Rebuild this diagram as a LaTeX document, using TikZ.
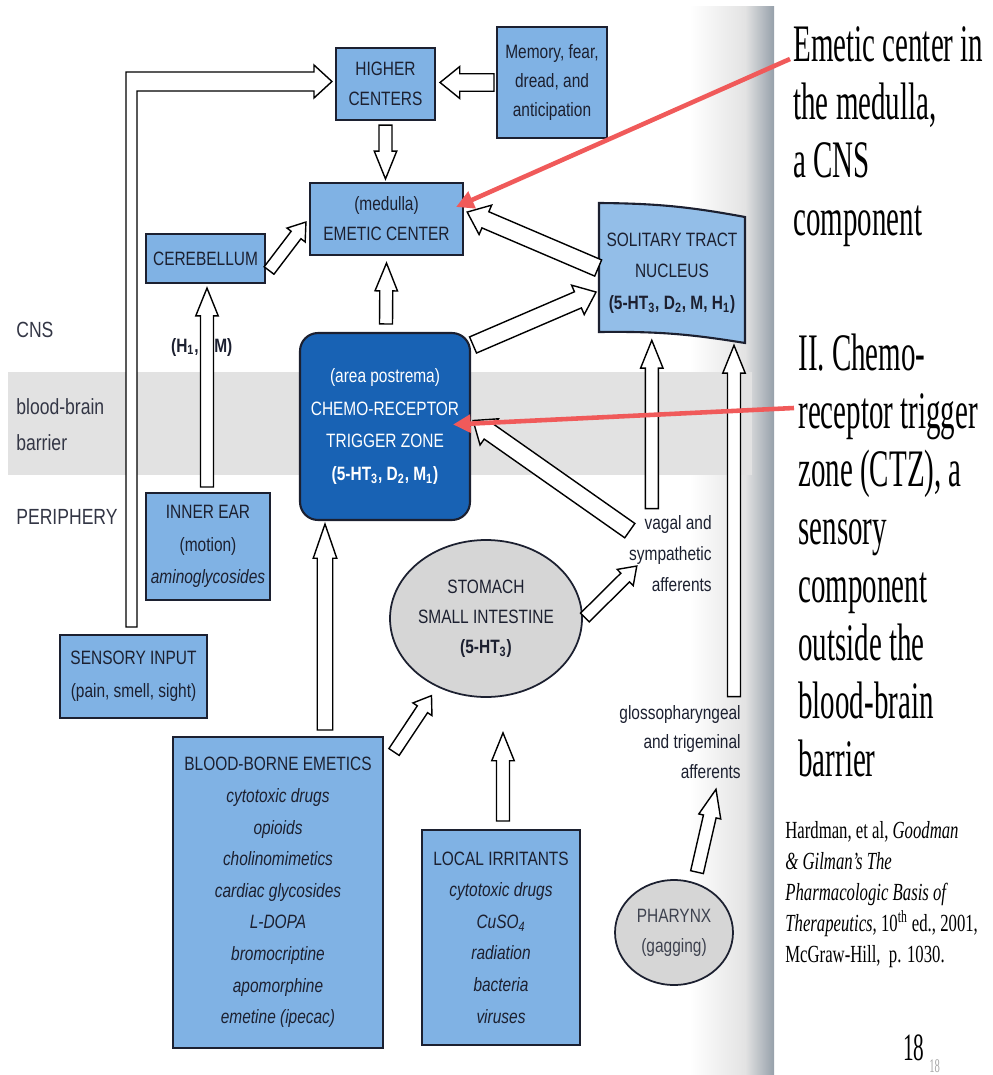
\documentclass[tikz,border=0pt]{standalone}
\usepackage{fontspec}
\setmainfont{Liberation Serif}
\newfontfamily\diagfont[FakeStretch=0.8]{Liberation Sans}
\newfontfamily\slidefont[FakeStretch=0.55]{Liberation Serif}
\newfontfamily\citefont[FakeStretch=0.68]{Liberation Serif}
\usetikzlibrary{arrows.meta, positioning, calc, shapes.arrows, shapes.geometric}

\definecolor{boxblue}{RGB}{128,178,228}
\definecolor{ctzblue}{RGB}{24,98,180}
\definecolor{gutgray}{RGB}{214,214,214}
\definecolor{bandgray}{RGB}{226,226,226}
\definecolor{pointred}{RGB}{240,90,90}
\definecolor{inkdark}{RGB}{28,32,48}
\definecolor{edgegray}{RGB}{150,160,170}

% hollow block arrow from #2 to #3
\newcommand{\fatarrow}[3][fatthin]{%
  \path let \p1=#2, \p2=#3,
    \n1={atan2(\y2-\y1,\x2-\x1)}, \n2={veclen(\x2-\x1,\y2-\y1)} in
    node[#1, rotate=\n1, minimum height=\n2, anchor=tail] at (\p1) {};}

\begin{document}
\begin{tikzpicture}[x=0.02cm, y=-0.02cm,
  box/.style={draw=inkdark, line width=1.2pt, fill=boxblue, text=inkdark, align=center,
    inner sep=0pt, font=\diagfont\fontsize{11}{17.5}\selectfont},
  gut/.style={box, ellipse, line width=1pt, fill=gutgray},
  lab/.style={text=inkdark, inner sep=0pt, align=center, font=\diagfont\fontsize{11}{17.5}\selectfont},
  side/.style={text=inkdark!90, inner sep=0pt, align=left, font=\diagfont\fontsize{12.5}{20.5}\selectfont},
  note/.style={inner sep=0pt, align=left, anchor=north west, font=\slidefont\fontsize{30}{33}\selectfont},
  fat/.style={single arrow, draw=black, fill=white, line width=0.8pt, inner xsep=0pt,
    minimum width=0pt, outer sep=0pt, single arrow head indent=0pt},
  fatthin/.style={fat, inner ysep=3.3pt, single arrow head extend=2.7pt, single arrow tip angle=44},
  fatshort/.style={fat, inner ysep=3.1pt, single arrow head extend=3pt, single arrow tip angle=70},
  fatwide/.style={fat, inner ysep=4.6pt, single arrow head extend=4.1pt, single arrow tip angle=78},
  fatlong/.style={fat, inner ysep=4pt, single arrow head extend=2.3pt, single arrow tip angle=38},
  fatline/.style={draw=black, fill=white, line width=0.8pt, line join=miter},
  pointer/.style={draw=pointred, line width=2.6pt, -{Triangle[length=10pt,width=10pt]}}
]
\useasboundingbox (0,0) rectangle (992,1075);

% page edge and blood-brain barrier band
\shade[left color=white, right color=gray!22] (690,6) rectangle (745,1075);
\shade[left color=gray!22, right color=edgegray] (745,6) rectangle (774,1075);
\fill[bandgray] (8,372) rectangle (752,475);

% side labels
\node[side, anchor=west] (cns) at (16,330) {CNS};
\node[side, anchor=west] (bbb) at (16,425) {blood-brain\\barrier};
\node[side, anchor=west] (peri) at (16,517) {PERIPHERY};

% boxes
\node[box, minimum width=1.98cm, minimum height=1.44cm, font=\diagfont\fontsize{11}{17}\selectfont]
  (higher) at (385.5,84) {HIGHER\\CENTERS};
\node[box, minimum width=2.2cm, minimum height=2.22cm, font=\diagfont\fontsize{11}{16.5}\selectfont]
  (memory) at (552,82.5) {Memory, fear,\\dread, and\\anticipation};
\node[box, minimum width=3.06cm, minimum height=1.44cm, font=\diagfont\fontsize{11}{17}\selectfont]
  (emetic) at (386.5,219) {(medulla)\\EMETIC CENTER};
\node[box, minimum width=2.38cm, minimum height=0.98cm] (cerebellum) at (205.5,258.5) {CEREBELLUM};
\node[box, minimum width=2.48cm, minimum height=2.14cm, font=\diagfont\fontsize{11}{18.5}\selectfont]
  (innerear) at (208,546.5) {INNER EAR\\(motion)\\\textit{aminoglycosides}};
\node[box, minimum width=2.94cm, minimum height=1.66cm, font=\diagfont\fontsize{11}{18.7}\selectfont]
  (sensory) at (133.5,676.5) {SENSORY INPUT\\(pain, smell, sight)};
\node[box, fill=ctzblue, text=white, rounded corners=0.36cm, minimum width=3.4cm, minimum height=3.74cm,
  font=\diagfont\fontsize{11}{18.6}\selectfont]
  (ctz) at (385,426.5) {(area postrema)\\CHEMO-RECEPTOR\\TRIGGER ZONE\\
  \textbf{(5-HT\textsubscript{3}, D\textsubscript{2}, M\textsubscript{1})}};
\node[gut, minimum width=3.2cm, minimum height=3.14cm, font=\diagfont\fontsize{11}{17}\selectfont]
  (stomach) at (486,618.5) {STOMACH\\SMALL INTESTINE\\\textbf{(5-HT\textsubscript{3})}};
\node[box, minimum width=4.2cm, minimum height=6.22cm, font=\diagfont\fontsize{11}{18}\selectfont]
  (blood) at (278,892.5) {BLOOD-BORNE EMETICS\\\textit{cytotoxic drugs}\\\textit{opioids}\\
  \textit{cholinomimetics}\\\textit{cardiac glycosides}\\\textit{L-DOPA}\\\textit{bromocriptine}\\
  \textit{apomorphine}\\\textit{emetine (ipecac)}};
\node[box, minimum width=3.16cm, minimum height=4.3cm, font=\diagfont\fontsize{11}{18}\selectfont]
  (local) at (501,937.5) {LOCAL IRRITANTS\\\textit{cytotoxic drugs}\\\textit{CuSO\textsubscript{4}}\\
  \textit{radiation}\\\textit{bacteria}\\\textit{viruses}};
\node[gut, text=inkdark!85, minimum width=2.36cm, minimum height=2.1cm, font=\diagfont\fontsize{11}{17}\selectfont]
  (pharynx) at (674,932.5) {PHARYNX\\(gagging)};

% solitary tract nucleus (curled sheet)
\draw[draw=inkdark, line width=1.2pt, fill=boxblue!85!white]
  (599,203) to[bend left=5] (745,217) -- (745,343) to[bend right=5] (599,332) -- cycle;
\node[lab, minimum width=2.9cm, minimum height=2.6cm, font=\diagfont\fontsize{11}{18}\selectfont]
  (stn) at (672,273) {SOLITARY TRACT\\NUCLEUS\\
  \textbf{(5-HT\textsubscript{3}, D\textsubscript{2}, M, H\textsubscript{1})}};

% afferent labels
\node[lab, align=right, anchor=east, font=\diagfont\fontsize{11}{17.6}\selectfont]
  (vagal) at (712,554) {vagal and\\sympathetic\\afferents};
\node[lab, align=right, anchor=east, font=\diagfont\fontsize{11}{17}\selectfont]
  (glosso) at (741,742) {glossopharyngeal\\and trigeminal\\afferents};
\node[lab, anchor=east, font=\diagfont\bfseries\fontsize{11}{17}\selectfont]
  (hlab) at (199,347) {(H\textsubscript{1},};
\node[lab, anchor=west, font=\diagfont\bfseries\fontsize{11}{17}\selectfont]
  (mlab) at (214,347) {M)};

% sensory input to higher centers
\coordinate (Ltail) at ($(sensory.north)+(-2,-7)$);
\coordinate (Ltip) at ($(higher.west)+(-3,-2.5)$);
\draw[fatline] ($(Ltail)+(-5.5,0)$) |- ($(Ltip)+(-18,-9.5)$) -- ++(0,-7) -- (Ltip)
  -- ++(-18,16.5) -- ++(0,-7) -| ($(Ltail)+(5.5,0)$) -- cycle;

% hollow arrows
\fatarrow[fatwide]{($(memory.west)+(-2,0)$)}{($(higher.east |- memory.west)+(4,0)$)}
\fatarrow{($(higher.south)+(0,4)$)}{($(higher.south |- emetic.north)+(0,-3)$)}
\fatarrow[fatshort]{($(cerebellum.east)+(3,12)$)}{($(emetic.west)+(-3,3)$)}
\fatarrow{($(ctz.north)+(1,-8)$)}{($(emetic.south)+(0,7)$)}
\fatarrow{($(innerear.north)+(-1,-5)$)}{($(innerear.north |- cerebellum.south)+(-1,4)$)}
\fatarrow[fatwide]{($(stn.west)+(-1,-5)$)}{($(emetic.east)+(3,-7)$)}
\fatarrow[fatwide]{($(ctz.north east)+(2,13)$)}{($(stn.west)+(-3,19)$)}
\fatarrow[fatwide]{($(vagal.north west)+(1,15)$)}{($(ctz.east)+(2,-6)$)}
\fatarrow[fatshort]{($(stomach.east)+(2,-1)$)}{($(vagal.west)+(8,12)$)}
\coordinate (va) at ($(vagal.north west)+(23,-7)$);
\fatarrow{(va)}{($(va |- stn.south)+(0,2)$)}
\coordinate (ga) at ($(glosso.north east)+(-7,-8)$);
\fatarrow{(ga)}{($(ga |- stn.south)+(0,7)$)}
\fatarrow{($(pharynx.north)+(23,-7)$)}{($(glosso.south east)+(-25,10)$)}
\fatarrow[fatlong]{($(blood.north)+(47,-6)$)}{($(ctz.south)+(-60,3)$)}
\fatarrow[fatshort]{($(blood.north east)+(10,16)$)}{($(stomach.south west)+(14,21)$)}
\fatarrow{($(local.north)+(2,-8)$)}{($(stomach.south)+(17,35)$)}

% slide annotations
\node[note] (ann1) at (793,26) {Emetic center in\\the medulla,\\a CNS\\component};
\node[note] (ann2) at (798,334) {II. Chemo-\\receptor trigger\\zone (CTZ), a\\sensory\\component\\
  outside the\\blood-brain\\barrier};
\node[inner sep=0pt, align=left, anchor=north west, font=\citefont\fontsize{14}{17.6}\selectfont]
  (cite) at (785,821) {Hardman, et al, \textit{Goodman}\\\textit{\& Gilman’s The}\\
  \textit{Pharmacologic Basis of}\\\textit{Therapeutics,} 10\textsuperscript{th} ed., 2001,\\
  McGraw-Hill,~ p. 1030.};
\node[inner sep=0pt, anchor=base west, font=\slidefont\fontsize{22}{22}\selectfont]
  (page) at (903,1060) {18};
\node[inner sep=0pt, anchor=base west, text=gray!70, font=\slidefont\fontsize{11}{11}\selectfont]
  (pagesmall) at (929,1072) {18};

% red pointers
\draw[pointer] ($(ann1.north west)+(-3,33)$) -- ($(emetic.east)+(-8,-12)$);
\draw[pointer] ($(ann2.north west)+(-4,74)$) -- ($(ctz.east)+(-18,-2)$);
\end{tikzpicture}
\end{document}
